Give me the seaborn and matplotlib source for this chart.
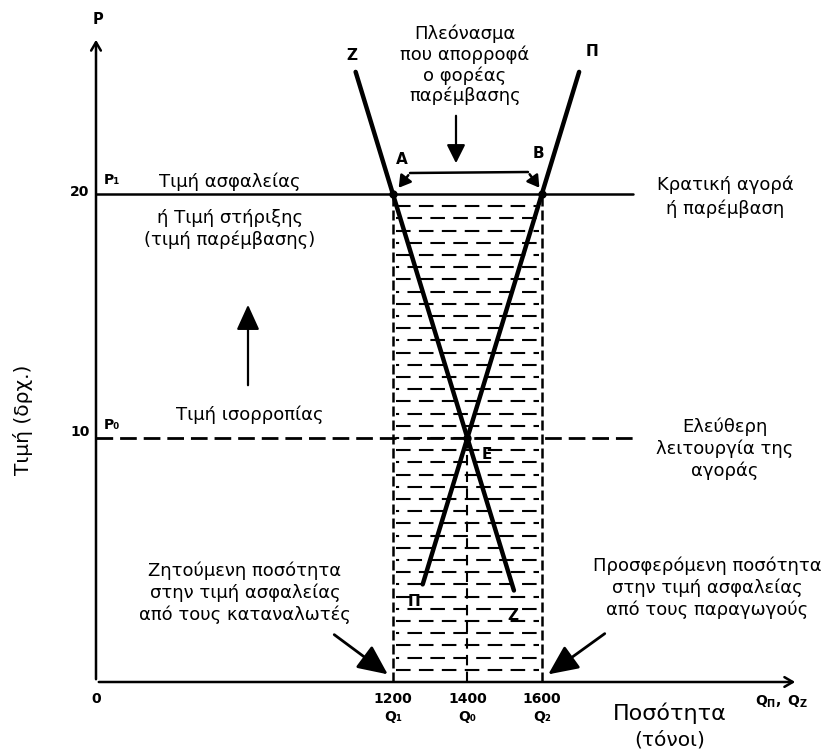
import numpy as np
import pandas as pd
import matplotlib
matplotlib.use("Agg")
import matplotlib.pyplot as plt
import seaborn as sns

# ---------------- data ----------------
demand_q = [1100, 1525]          # Ζ curve
demand_p = [25.0, 3.75]
supply_q = [1280, 1700]          # Π curve
supply_p = [4.0, 25.0]
p_support = 20                   # P1 (τιμή ασφαλείας)
p_equil = 10                     # P0 (τιμή ισορροπίας)
q_demanded = 1200                # Q1
q_equil = 1400                   # Q0
q_supplied = 1600                # Q2
line_end_q = 1845                # right end of the P1 / P0 lines
x_tick_values = [0, 1200, 1400, 1600]
x_tick_labels = ["0", "1200\nQ₁", "1400\nQ₀", "1600\nQ₂"]
y_tick_values = [10, 20]
y_tick_labels = ["10", "20"]

# ---------------- figure ----------------
W, H = 829, 752
sns.set_style("white")
plt.rcParams['font.family'] = ['DejaVu Sans']
plt.rcParams['text.color'] = 'black'
plt.rcParams['xtick.color'] = 'black'
plt.rcParams['ytick.color'] = 'black'
fig = plt.figure(figsize=(W / 100, H / 100), dpi=100)
ax = fig.add_axes([96 / W, (H - 682) / H, (798 - 96) / W, (682 - 37) / H])
ax.patch.set_alpha(0)

def fx(px):
    return px / W

def fy(py):
    return 1 - py / H

def T(px, py, s, size=13, **kw):
    kw.setdefault('ha', 'center')
    kw.setdefault('va', 'center')
    fig.text(fx(px), fy(py), s, fontsize=size, color='black', **kw)

# curves via seaborn
df_d = pd.DataFrame({'q': demand_q, 'p': demand_p})
df_s = pd.DataFrame({'q': supply_q, 'p': supply_p})
sns.lineplot(data=df_d, x='q', y='p', ax=ax, color='black', lw=3.2, sort=False)
sns.lineplot(data=df_s, x='q', y='p', ax=ax, color='black', lw=3.2, sort=False)

# broken (piecewise-linear) quantity scale: compressed below 1000
BREAK = 1000.0
C = 597.0
def fwd(q):
    q = np.asarray(q, float)
    return np.where(q <= BREAK, q * C / BREAK, C + (q - BREAK))

def inv(u):
    u = np.asarray(u, float)
    return np.where(u <= C, u * BREAK / C, BREAK + (u - C))

ax.set_xscale('function', functions=(fwd, inv))
ax.set_xlim(0, 2287.6)
ax.set_ylim(0, 26.43)

# support price line and equilibrium dashed line
ax.plot([0, line_end_q], [p_support, p_support], color='black', lw=1.8)
ax.plot([0, line_end_q], [p_equil, p_equil], color='black', lw=2.0,
        linestyle=(0, (6, 2.5)))

# surplus region: dashed horizontal hatch rows
rows = np.arange(0.5, p_support, 0.5)
for i, r in enumerate(rows):
    off = 0 if i % 2 == 0 else 5.5
    ax.plot([q_demanded + 8, q_supplied - 8], [r, r], color='black', lw=1.5,
            linestyle=(off, (7, 4)))
for qv in (q_demanded, q_supplied):
    ax.plot([qv, qv], [0, p_support], color='black', lw=1.8, linestyle=(0, (4, 1.6)))
ax.plot([q_equil, q_equil], [0, p_equil], color='black', lw=1.5, linestyle=(0, (5, 3)))

# intersection points
ax.plot([q_demanded, q_supplied, q_equil], [p_support, p_support, p_equil],
        'o', color='black', ms=5)

# axes arrows
ax.annotate('', xy=(0, 1), xytext=(0, 0), xycoords='axes fraction',
            arrowprops=dict(arrowstyle='->,head_length=0.6,head_width=0.35', lw=1.8, color='black'))
ax.annotate('', xy=(1, 0), xytext=(0, 0), xycoords='axes fraction',
            arrowprops=dict(arrowstyle='->,head_length=0.6,head_width=0.35', lw=1.8, color='black'))

for s in ax.spines.values():
    s.set_visible(False)

# ticks
ax.set_xticks(x_tick_values)
ax.set_xticklabels(x_tick_labels, fontsize=10, fontweight='bold', linespacing=1.35)
ax.tick_params(axis='x', length=0, pad=7, colors='black')
ax.set_yticks([])
ax.set_xlabel('')
ax.set_ylabel('')
T(80, 192, y_tick_labels[1], size=10, fontweight='bold')
T(80, 432, y_tick_labels[0], size=10, fontweight='bold')

# axis titles
T(98, 20, 'P', size=10.5, fontweight='bold')
T(23, 420, 'Τιμή (δρχ.)', size=14.5, rotation=90)
T(670, 713, 'Ποσότητα', size=16)
T(670, 740, '(τόνοι)', size=14.5)
T(782, 702, r'$\mathbf{Q_{\Pi},\ Q_{Z}}$', size=10)

# curve labels
T(352, 55, 'Ζ', size=11, fontweight='bold')
T(592, 52, 'Π', size=11, fontweight='bold')
T(414, 602, 'Π', size=11, fontweight='bold')
T(513, 615, 'Ζ', size=11, fontweight='bold')
T(402, 160, 'Α', size=11, fontweight='bold')
T(538, 154, 'Β', size=11, fontweight='bold')
T(487, 455, 'Ε', size=11, fontweight='bold')
T(112, 180, 'P₁', size=10, fontweight='bold')
T(112, 425, 'P₀', size=10, fontweight='bold')

# annotations
T(465, 65, 'Πλεόνασμα\nπου απορροφά\nο φορέας\nπαρέμβασης', linespacing=1.15)
T(725, 197, 'Κρατική αγορά\nή παρέμβαση', linespacing=1.4)
T(230, 182, 'Τιμή ασφαλείας')
T(230, 229, 'ή Τιμή στήριξης\n(τιμή παρέμβασης)', linespacing=1.25)
T(250, 415, 'Τιμή ισορροπίας')
T(725, 449, 'Ελεύθερη\nλειτουργία της\nαγοράς', linespacing=1.25)
T(245, 593, 'Ζητούμενη ποσότητα\nστην τιμή ασφαλείας\nαπό τους καταναλωτές', linespacing=1.25)
T(707, 588, 'Προσφερόμενη ποσότητα\nστην τιμή ασφαλείας\nαπό τους παραγωγούς', linespacing=1.25)

def arrow(p0, p1, style='-|>,head_length=0.8,head_width=0.4', lw=1.6):
    fig.add_artist(matplotlib.patches.FancyArrowPatch(
        (fx(p0[0]), fy(p0[1])), (fx(p1[0]), fy(p1[1])), transform=fig.transFigure,
        arrowstyle=style, color='black', lw=lw, mutation_scale=14))

arrow((456, 113), (456, 166))
arrow((248, 388), (248, 302), style='-|>,head_length=1.1,head_width=0.5')
arrow((332, 633), (390, 676), style='-|>,head_length=1.3,head_width=0.6', lw=2)
arrow((607, 632), (546, 676), style='-|>,head_length=1.3,head_width=0.6', lw=2)

# bracket between A and B
fig.add_artist(matplotlib.lines.Line2D([fx(410), fx(528)], [fy(173), fy(172)],
                                       color='black', lw=1.8))
arrow((410, 173), (397, 190), style='-|>,head_length=0.5,head_width=0.3', lw=1.8)
arrow((528, 172), (541, 190), style='-|>,head_length=0.5,head_width=0.3', lw=1.8)

fig.savefig('out.png', dpi=100)
